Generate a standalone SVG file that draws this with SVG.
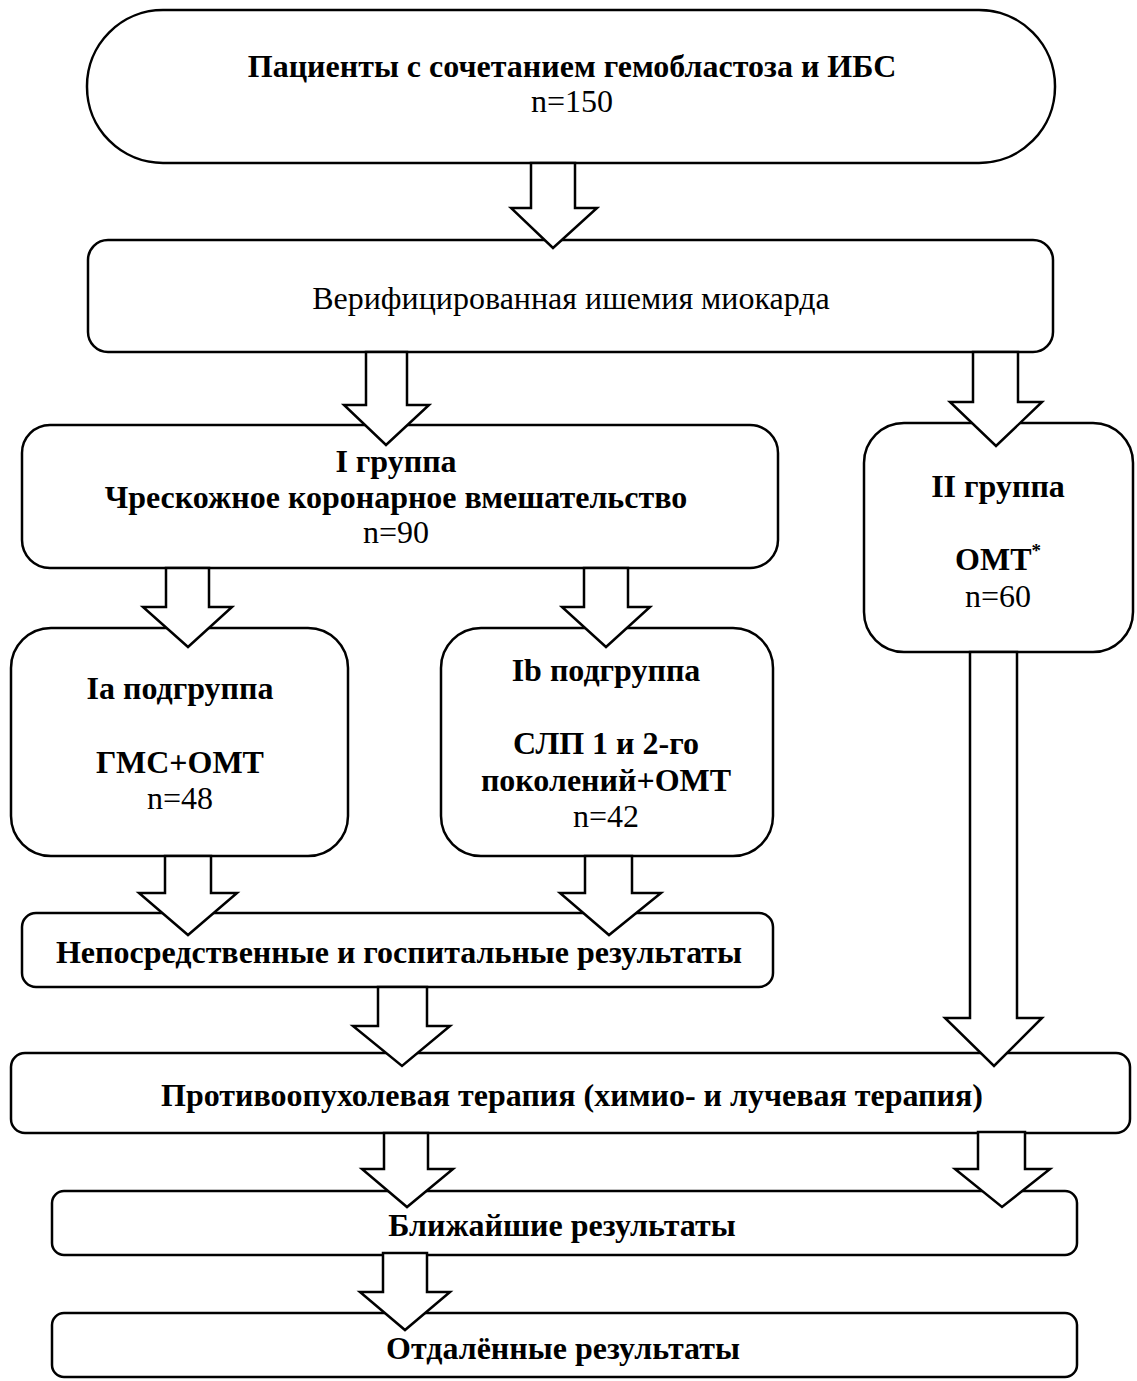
<svg xmlns="http://www.w3.org/2000/svg" width="1137" height="1381" viewBox="0 0 1137 1381">
<style>
.box{fill:#fff;stroke:#000;stroke-width:2.5}
.arr{fill:#fff;stroke:#000;stroke-width:2.5;stroke-linejoin:miter}
text{font-family:"Liberation Serif","Times New Roman",serif;font-size:32px;fill:#000;text-anchor:middle}
.b{font-weight:bold}
</style>
<rect width="1137" height="1381" fill="#fff"/>
<g id="n-patients">
<rect class="box" x="87" y="10" width="968" height="153" rx="76" ry="76"/>
<text class="b" x="572" y="77">Пациенты с сочетанием гемобластоза и ИБС</text>
<text x="572" y="112">n=150</text>
</g>
<g id="n-ischemia">
<rect class="box" x="88" y="240" width="965" height="112" rx="20"/>
<text x="571" y="309">Верифицированная ишемия миокарда</text>
</g>
<g id="n-group1">
<rect class="box" x="22" y="425" width="756" height="143" rx="28"/>
<text class="b" x="396" y="472">I группа</text>
<text class="b" x="396" y="508">Чрескожное коронарное вмешательство</text>
<text x="396" y="543">n=90</text>
</g>
<g id="n-group2">
<rect class="box" x="864" y="423" width="269" height="229" rx="40"/>
<text class="b" x="998" y="497">II группа</text>
<text class="b" x="998" y="570">ОМТ<tspan font-size="19" dy="-13">*</tspan></text>
<text x="998" y="607">n=60</text>
</g>
<g id="n-ia">
<rect class="box" x="11" y="628" width="337" height="228" rx="40"/>
<text class="b" x="180" y="699">Ia подгруппа</text>
<text class="b" x="180" y="773">ГМС+ОМТ</text>
<text x="180" y="809">n=48</text>
</g>
<g id="n-ib">
<rect class="box" x="441" y="628" width="332" height="228" rx="40"/>
<text class="b" x="606" y="681">Ib подгруппа</text>
<text class="b" x="606" y="754">СЛП 1 и 2-го</text>
<text class="b" x="606" y="791">поколений+ОМТ</text>
<text x="606" y="827">n=42</text>
</g>
<g id="n-immediate">
<rect class="box" x="22" y="913" width="751" height="74" rx="14"/>
<text class="b" x="399" y="963">Непосредственные и госпитальные результаты</text>
</g>
<g id="n-antitumor">
<rect class="box" x="11" y="1053" width="1119" height="80" rx="14"/>
<text class="b" x="572" y="1106">Противоопухолевая терапия (химио- и лучевая терапия)</text>
</g>
<g id="n-near">
<rect class="box" x="52" y="1191" width="1025" height="64" rx="12"/>
<text class="b" x="562" y="1236">Ближайшие результаты</text>
</g>
<g id="n-remote">
<rect class="box" x="52" y="1313" width="1025" height="64" rx="12"/>
<text class="b" x="563" y="1359">Отдалённые результаты</text>
</g>
<g id="connectors">
<polygon class="arr" points="531,163 575,163 575,208 597,208 553,248 511,208 531,208"/>
<polygon class="arr" points="366,352 407,352 407,405 429,405 386,445 344,405 366,405"/>
<polygon class="arr" points="973,352 1018,352 1018,402 1042,402 996,446 950,402 973,402"/>
<polygon class="arr" points="166,568 209,568 209,607 232,607 188,647 143,607 166,607"/>
<polygon class="arr" points="584,568 628,568 628,607 650,607 606,647 562,607 584,607"/>
<polygon class="arr" points="165,856 211,856 211,893 237,893 188,935 139,893 165,893"/>
<polygon class="arr" points="585,856 632,856 632,893 661,893 609,935 560,893 585,893"/>
<polygon class="arr" points="378,987 427,987 427,1026 450,1026 402,1066 353,1026 378,1026"/>
<polygon class="arr" points="970,652 1017,652 1017,1018 1042,1018 994,1066 945,1018 970,1018"/>
<polygon class="arr" points="384,1133 428,1133 428,1169 453,1169 407,1207 362,1169 384,1169"/>
<polygon class="arr" points="978,1132 1025,1132 1025,1169 1050,1169 1002,1207 955,1169 978,1169"/>
<polygon class="arr" points="383,1253 427,1253 427,1292 450,1292 405,1330 360,1292 383,1292"/>
</g>
</svg>
